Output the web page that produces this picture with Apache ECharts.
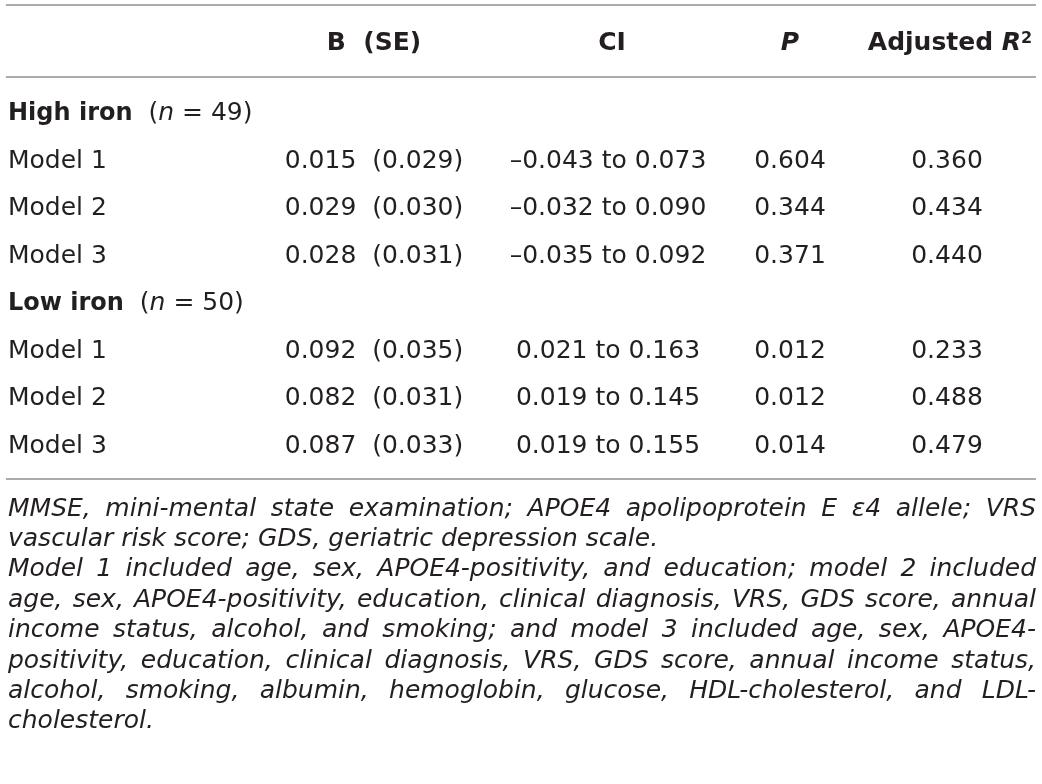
<!DOCTYPE html>
<html>
<head>
<meta charset="utf-8">
<script src="https://cdn.jsdelivr.net/npm/echarts@6/dist/echarts.min.js"></script>
<style>
  html, body { margin: 0; padding: 0; background: #fff; }
  #chart { width: 1042px; height: 784px; }
</style>
</head>
<body>
<div id="chart"></div>
<script>
// table values
const groups = ["High iron", "Low iron"];
const groupN = [49, 50];
const models = ["Model 1", "Model 2", "Model 3"];
const bValues = [[0.015, 0.029, 0.028], [0.092, 0.082, 0.087]];
const seValues = [[0.029, 0.030, 0.031], [0.035, 0.031, 0.033]];
const ciLow = [[-0.043, -0.032, -0.035], [0.021, 0.019, 0.019]];
const ciHigh = [[0.073, 0.090, 0.092], [0.163, 0.145, 0.155]];
const pValues = [[0.604, 0.344, 0.371], [0.012, 0.012, 0.014]];
const adjR2 = [[0.360, 0.434, 0.440], [0.233, 0.488, 0.479]];

const footnotes = [
  [
    "MMSE, mini-mental state examination; APOE4 apolipoprotein E \u03b54 allele; VRS",
    "vascular risk score; GDS, geriatric depression scale."
  ],
  [
    "Model 1 included age, sex, APOE4-positivity, and education; model 2 included",
    "age, sex, APOE4-positivity, education, clinical diagnosis, VRS, GDS score, annual",
    "income status, alcohol, and smoking; and model 3 included age, sex, APOE4-",
    "positivity, education, clinical diagnosis, VRS, GDS score, annual income status,",
    "alcohol, smoking, albumin, hemoglobin, glucose, HDL-cholesterol, and LDL-",
    "cholesterol."
  ]
];

// layout
const TEXT = "#231f20";
const RULE = "#8f8f8f";
const BODY_FONT = "DejaVu Sans";
const NOTE_FONT = "DejaVu Sans";
const NOTE_SIZE = 25;
const colX = { label: 8, b: 374, ci: 608, p: 790, r2: 947 };

const fmt = (v) => (v < 0 ? "\u2013" : "") + Math.abs(v).toFixed(3);

// build the rows of the table
const tableRows = [];
groups.forEach((g, gi) => {
  tableRows.push({ type: "group", name: g, n: groupN[gi] });
  models.forEach((m, mi) => {
    tableRows.push({
      type: "model",
      name: m,
      b: fmt(bValues[gi][mi]) + "  (" + fmt(seValues[gi][mi]) + ")",
      ci: fmt(ciLow[gi][mi]) + " to " + fmt(ciHigh[gi][mi]),
      p: fmt(pValues[gi][mi]),
      r2: fmt(adjR2[gi][mi]),
    });
  });
});
const rowKeys = tableRows.map((r, i) => i + ":" + r.name);

const cellText = (x, y, text, align) => ({
  type: "text",
  style: {
    x: x,
    y: y,
    text: text,
    fill: TEXT,
    fontSize: 25,
    fontFamily: BODY_FONT,
    align: align || "center",
    verticalAlign: "middle",
  },
});

const renderRow = (params, api) => {
  const row = tableRows[params.dataIndex];
  const y = api.coord([0, api.value(1)])[1];
  if (row.type === "group") {
    return {
      type: "text",
      style: {
        x: colX.label,
        y: y,
        text: "{b|" + row.name + "}{n|  (}{i|n}{n| = " + row.n + ")}",
        align: "left",
        verticalAlign: "middle",
        rich: {
          b: { fontSize: 24, fontWeight: "bold", fontFamily: BODY_FONT, fill: TEXT },
          n: { fontSize: 25, fontFamily: BODY_FONT, fill: TEXT },
          i: { fontSize: 25, fontStyle: "italic", fontFamily: BODY_FONT, fill: TEXT },
        },
      },
    };
  }
  return {
    type: "group",
    children: [
      cellText(colX.label, y, row.name, "left"),
      cellText(colX.b, y, row.b),
      cellText(colX.ci, y, row.ci),
      cellText(colX.p, y, row.p),
      cellText(colX.r2, y, row.r2),
    ],
  };
};

// header row
const headerStyle = { fontSize: 25, fontWeight: "bold", fontFamily: BODY_FONT, fill: TEXT };
const headerY = 43;
const headers = [
  { x: colX.b, text: "{b|B  (SE)}" },
  { x: colX.ci + 4, text: "{b|CI}" },
  { x: colX.p, text: "{bi|P}" },
  { x: 950, text: "{b|Adjusted }{bi|R}{sup|2}" },
];

// footnotes, justified like the printed table
const measure = (() => {
  const ctx = document.createElement("canvas").getContext("2d");
  return (txt, font) => {
    ctx.font = font;
    return ctx.measureText(txt).width;
  };
})();

const noteElements = [];
const noteLeft = 8, noteRight = 1036, noteTop = 509, notePitch = 30.4;
const noteFont = "italic " + NOTE_SIZE + "px '" + NOTE_FONT + "'";
let lineNo = 0;
footnotes.forEach((para) => {
  para.forEach((line, li) => {
    const y = noteTop + lineNo * notePitch;
    const last = li === para.length - 1;
    const words = line.split(" ");
    const baseStyle = {
      fill: TEXT,
      font: noteFont,
      verticalAlign: "middle",
      align: "left",
    };
    if (last || words.length < 2) {
      noteElements.push({ type: "text", style: Object.assign({ x: noteLeft, y: y, text: line }, baseStyle) });
    } else {
      const widths = words.map((w) => measure(w, noteFont));
      const total = widths.reduce((a, b) => a + b, 0);
      const gap = (noteRight - noteLeft - total) / (words.length - 1);
      let x = noteLeft;
      words.forEach((w, wi) => {
        noteElements.push({ type: "text", style: Object.assign({ x: x, y: y, text: w }, baseStyle) });
        x += widths[wi] + gap;
      });
    }
    lineNo++;
  });
});

const rule = (y) => ({
  type: "line",
  shape: { x1: 6, y1: y, x2: 1036, y2: y },
  style: { stroke: RULE, lineWidth: 1.6 },
});

const chart = echarts.init(document.getElementById("chart"), null, { renderer: "canvas" });
chart.setOption({
  animation: false,
  backgroundColor: "#fff",
  grid: { left: 0, right: 0, top: 90, height: 380 },
  xAxis: { type: "value", min: 0, max: 1, show: false },
  yAxis: { type: "category", data: rowKeys, inverse: true, show: false },
  series: [
    {
      type: "custom",
      renderItem: renderRow,
      encode: { x: 0, y: 1 },
      data: tableRows.map((r, i) => [0, i]),
    },
  ],
  graphic: [
    rule(5),
    rule(77),
    rule(479),
  ].concat(
    headers.map((h) => ({
      type: "text",
      style: {
        x: h.x,
        y: headerY,
        text: h.text,
        align: "center",
        verticalAlign: "middle",
        rich: {
          b: headerStyle,
          bi: Object.assign({}, headerStyle, { fontStyle: "italic" }),
          sup: Object.assign({}, headerStyle, { fontSize: 16, verticalAlign: "top" }),
        },
      },
    })),
    noteElements
  ),
});
</script>
</body>
</html>
